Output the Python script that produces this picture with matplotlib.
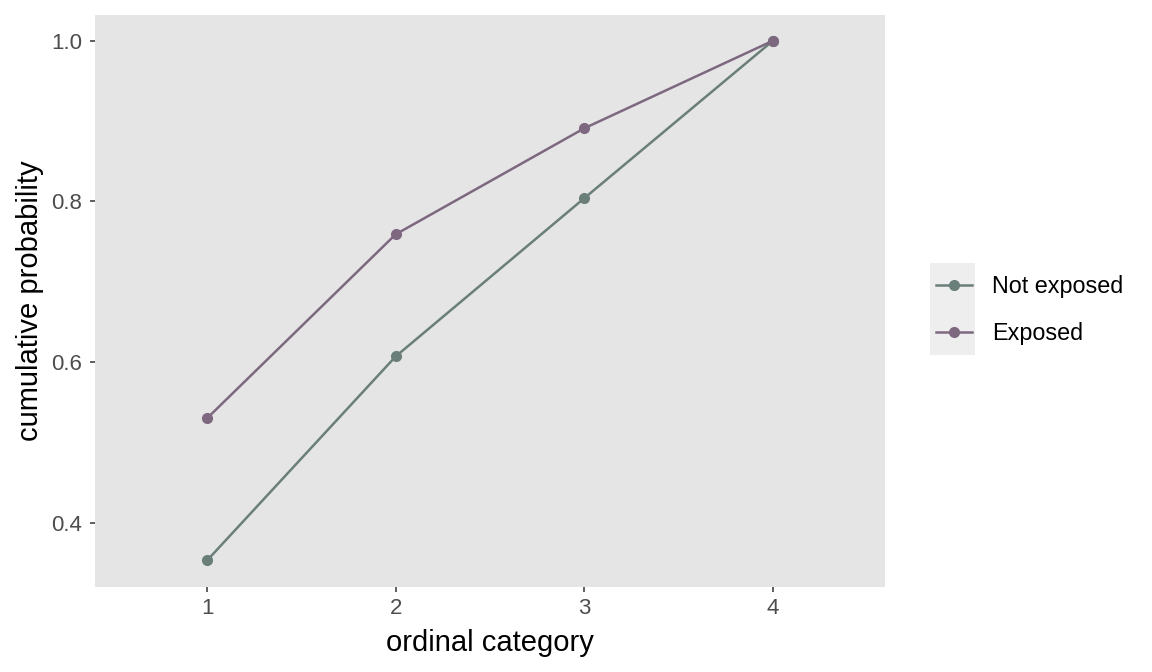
import matplotlib
matplotlib.use("Agg")
import matplotlib.pyplot as plt
from matplotlib.lines import Line2D
from matplotlib.patches import Rectangle

plt.rcParams['font.family'] = ['Liberation Sans', 'DejaVu Sans']

categories = [1, 2, 3, 4]
not_exposed = [0.353, 0.607, 0.804, 1.0]
exposed = [0.530, 0.759, 0.891, 1.0]
series_names = ["Not exposed", "Exposed"]
colors = ["#6B7F7A", "#7D6880"]

W, H = 1152, 672
fig = plt.figure(figsize=(W / 100, H / 100), dpi=100)
# panel: x 95..885, y 15..587 (pixels)
ax = fig.add_axes([95 / W, 1 - 587 / H, (885 - 95) / W, (587 - 15) / H])
ax.set_facecolor("#E5E5E5")
for s in ax.spines.values():
    s.set_visible(False)

for vals, name, c in zip([not_exposed, exposed], series_names, colors):
    ax.plot(categories, vals, color=c, lw=1.8, marker="o", ms=7, label=name)

ax.set_xlim(0.406, 4.594)
ax.set_ylim(0.320, 1.032)
ax.set_xticks(categories)
ax.set_yticks([0.4, 0.6, 0.8, 1.0])
ax.set_yticklabels(["0.4", "0.6", "0.8", "1.0"])
ax.tick_params(axis="both", length=3.6, width=1.1, color="#333333",
               labelcolor="#4D4D4D", labelsize=16)
ax.tick_params(axis="y", pad=5.5)
ax.tick_params(axis="x", pad=4.5)
ax.set_xlabel("ordinal category", fontsize=21, color="black", labelpad=7)
ax.set_ylabel("cumulative probability", fontsize=21, color="black", labelpad=5)

# legend key background (ggplot style)
fig.patches.append(Rectangle((930 / W, 1 - 355 / H), 45 / W, 92 / H,
                             transform=fig.transFigure, facecolor="#EEEEEE",
                             edgecolor="none", zorder=0))
handles = [Line2D([0], [0], color=c, lw=1.8, marker="o", ms=7) for c in colors]
leg = fig.legend(handles, series_names, loc="center left",
                 bbox_to_anchor=(931 / W, 1 - 310 / H), frameon=False,
                 fontsize=16.8, handlelength=1.55, handletextpad=0.85,
                 labelspacing=1.02, borderpad=0.2, borderaxespad=0)

fig.savefig("out.png", dpi=100)
